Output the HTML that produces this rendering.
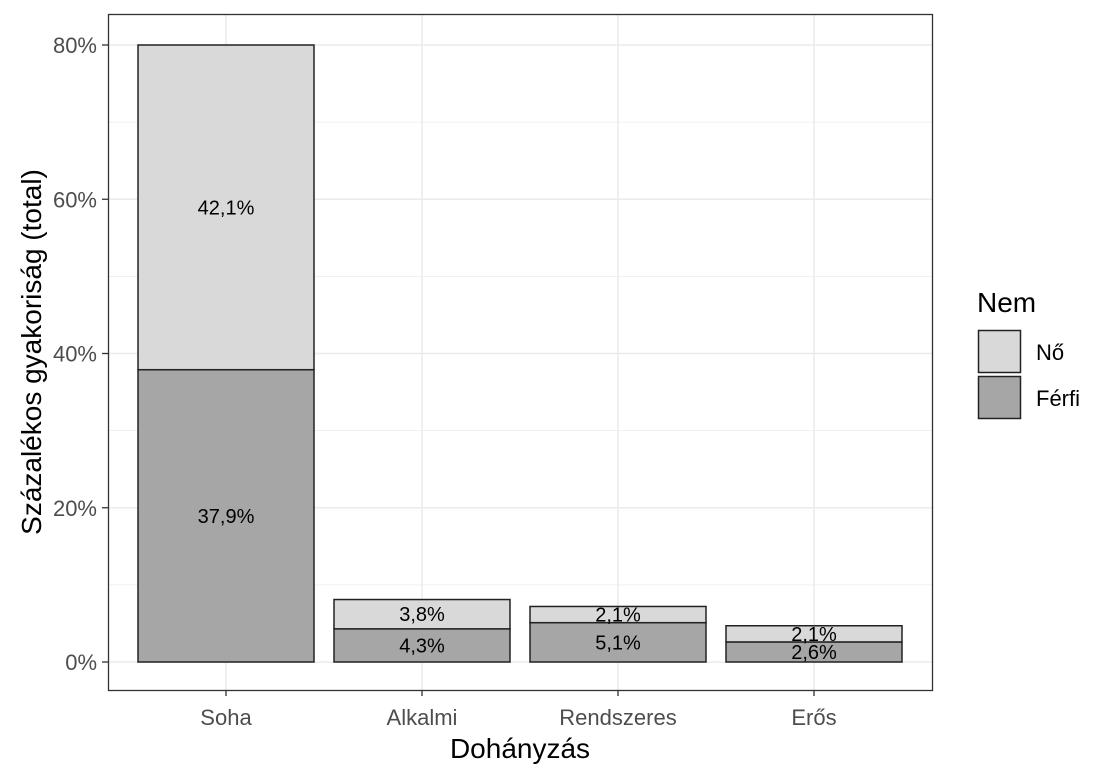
<!DOCTYPE html>
<html><head><meta charset="utf-8"><style>
body{margin:0;background:#fff}
svg text{font-family:"Liberation Sans",Arial,sans-serif}
</style></head><body>
<svg id="c" width="1113" height="779" xmlns="http://www.w3.org/2000/svg">
<rect width="1113" height="779" fill="#fff"/>
<g id="grid"></g><g id="bars"></g>
<rect x="108.5" y="14.5" width="824" height="676" fill="none" stroke="#333" stroke-width="1.3"/>
<g id="axes"></g>
<text x="520" y="758" font-size="28" text-anchor="middle" fill="#000">Dohányzás</text>
<text transform="translate(41,352) rotate(-90)" font-size="28" text-anchor="middle" fill="#000">Százalékos gyakoriság (total)</text>
<g>
<text x="977" y="312" font-size="28" fill="#000">Nem</text>
<rect x="978.5" y="330.5" width="42" height="42" fill="#d9d9d9" stroke="#222" stroke-width="1.5"/>
<text x="1036" y="360" font-size="22" fill="#000">Nő</text>
<rect x="978.5" y="376.5" width="42" height="42" fill="#a6a6a6" stroke="#222" stroke-width="1.5"/>
<text x="1036" y="406" font-size="22" fill="#000">Férfi</text>
</g>
</svg>
<script>
const categories=["Soha","Alkalmi","Rendszeres","Erős"];
const ferfi=[37.9,4.3,5.1,2.6];
const no=[42.1,3.8,2.1,2.1];
const yTicks=[0,20,40,60,80];
const yTickLabels=["0%","20%","40%","60%","80%"];
const yMinor=[10,30,50,70];
const NS="http://www.w3.org/2000/svg";
function y(v){return 662-v*7.7125;}
function x(i){return 226+i*196;}
const bw=176;
function mk(tag,attrs,parent){const e=document.createElementNS(NS,tag);for(const k in attrs)e.setAttribute(k,attrs[k]);parent.appendChild(e);return e;}
const grid=document.getElementById('grid'),bars=document.getElementById('bars'),axes=document.getElementById('axes');
yMinor.forEach(v=>{const l=mk('line',{x1:108,x2:932,y1:y(v),y2:y(v),stroke:'#ebebeb','stroke-width':0.8},grid);

});
yTicks.forEach((v,i)=>{const l=mk('line',{x1:108,x2:932,y1:y(v),y2:y(v),stroke:'#ebebeb','stroke-width':1.6},grid);


const t=mk('line',{x1:102,x2:108,y1:y(v),y2:y(v),stroke:'#333','stroke-width':1.3},axes);


const tx=mk('text',{x:97,y:y(v)+8,'font-size':22,'text-anchor':'end',fill:'#4d4d4d'},axes);tx.textContent=yTickLabels[i];

});
function fmt(v){return v.toFixed(1).replace('.',',')+'%';}
categories.forEach((c,i)=>{
const l=mk('line',{x1:x(i),x2:x(i),y1:14,y2:690,stroke:'#ebebeb','stroke-width':1.6},grid);


const r1=mk('rect',{x:x(i)-bw/2,y:y(ferfi[i]),width:bw,height:y(0)-y(ferfi[i]),fill:'#a6a6a6',stroke:'#222','stroke-width':1.5},bars);


const r2=mk('rect',{x:x(i)-bw/2,y:y(ferfi[i]+no[i]),width:bw,height:y(ferfi[i])-y(ferfi[i]+no[i]),fill:'#d9d9d9',stroke:'#222','stroke-width':1.5},bars);


const t1=mk('text',{x:x(i),y:y(ferfi[i]/2)+7,'font-size':20,'text-anchor':'middle',fill:'#000'},bars);t1.textContent=fmt(ferfi[i]);


const t2=mk('text',{x:x(i),y:y(ferfi[i]+no[i]/2)+7,'font-size':20,'text-anchor':'middle',fill:'#000'},bars);t2.textContent=fmt(no[i]);


const tk=mk('line',{x1:x(i),x2:x(i),y1:690,y2:696,stroke:'#333','stroke-width':1.3},axes);


const tl=mk('text',{x:x(i),y:725,'font-size':22,'text-anchor':'middle',fill:'#4d4d4d'},axes);tl.textContent=c;


});
</script>
</body></html>
